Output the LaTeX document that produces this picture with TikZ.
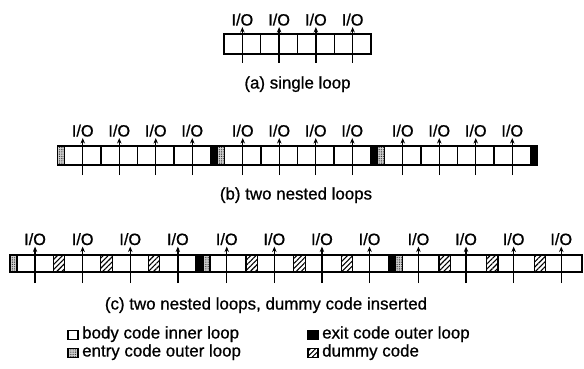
\documentclass[tikz,border=0pt]{standalone}
\usepackage{fontspec}
\setmainfont{Liberation Sans}
\newfontfamily\heavyfont[FakeBold=0.8]{Liberation Sans}
\usetikzlibrary{patterns.meta,arrows.meta}
\begin{document}
\begin{tikzpicture}[x=1pt,y=-1pt,
  box/.style={draw,line width=1.2pt},
  outline/.style={draw,line width=1.8pt},
  entryc/.style={fill=gray!35,postaction={pattern={Dots[distance=1.8pt,radius=0.45pt]}}},
  exitc/.style={fill=black},
  dummyc/.style={pattern={Lines[angle=45,distance=3.6pt,line width=1.1pt]}},
  io/.style={font=\heavyfont\fontsize{16.3}{18}\selectfont,inner sep=0pt,anchor=base},
  ioarrow/.style={-{Stealth[length=5.5pt,width=4.5pt]},line width=1.3pt,shorten >=1.2pt},
  captxt/.style={font=\heavyfont\fontsize{16.9}{18}\selectfont,inner sep=0pt,anchor=base},
  legtxt/.style={font=\heavyfont\fontsize{16.9}{18}\selectfont,inner sep=0pt,anchor=base west},
  legbox/.style={draw,line width=1.1pt}]
\useasboundingbox (0,0) rectangle (584,369);

% ---------- (a) single loop ----------
\foreach \k in {0,...,3} {
  \pgfmathsetmacro{\cx}{224+\k*36.75}
  \draw[box] (\cx,34) rectangle ++(36.75,20);
}
\draw[outline] (224,34) rectangle (371,54);
\foreach \k in {0,...,3} {
  \pgfmathsetmacro{\ax}{224+\k*36.75+18.375}
  \node[io] (a-io-\k) at (\ax,25.5) {I/O};
  \coordinate (a-bot-\k) at (\ax,63);
  \draw[ioarrow] (a-bot-\k) -- (a-io-\k.south);
}
\node[captxt] (capa) at (297.5,88.5) {(a) single loop};

% ---------- (b) two nested loops ----------
\foreach \g in {0,1,2} {
  \pgfmathsetmacro{\gx}{57.5+\g*160}
  \path[entryc,box] (\gx,146) rectangle ++(7,19);
  \foreach \k in {0,...,3} {
    \pgfmathsetmacro{\cx}{\gx+7+\k*36.5}
    \draw[box] (\cx,146) rectangle ++(36.5,19);
  }
  \path[exitc,box] ({\gx+153},146) rectangle ++(7,19);
}
\draw[outline] (57.5,146) rectangle (537.5,165);
\foreach \g in {0,1,2} {
  \foreach \k in {0,...,3} {
    \pgfmathsetmacro{\ax}{57.5+\g*160+7+\k*36.5+18.25}
    \node[io] (b-io-\g-\k) at (\ax,136.5) {I/O};
    \coordinate (b-bot-\g-\k) at (\ax,175);
    \draw[ioarrow] (b-bot-\g-\k) -- (b-io-\g-\k.south);
  }
}
\node[captxt] (capb) at (296,199.5) {(b) two nested loops};

% ---------- (c) two nested loops, dummy code inserted ----------
\foreach \g in {0,1,2} {
  \pgfmathsetmacro{\gx}{10+\g*192.9}
  \path[entryc,box] (\gx,255) rectangle ++(7,17);
  \foreach \k in {0,...,3} {
    \pgfmathsetmacro{\cx}{\gx+7+\k*47.6}
    \draw[box] (\cx,255) rectangle ++(36.1,17);
  }
  \foreach \k in {0,1,2} {
    \pgfmathsetmacro{\dx}{\gx+7+36.1+\k*47.6}
    \path[dummyc,box] (\dx,255) rectangle ++(11.5,17);
  }
}
\foreach \g in {0,1} {
  \pgfmathsetmacro{\ex}{10+\g*192.9+185.9}
  \path[exitc,box] (\ex,255) rectangle ++(7,17);
}
\draw[outline] (10,255) rectangle (581.7,272);
\foreach \g in {0,1,2} {
  \foreach \k in {0,...,3} {
    \pgfmathsetmacro{\ax}{10+\g*192.9+7+\k*47.6+18.05-\g*1.2}
    \node[io] (c-io-\g-\k) at (\ax,245) {I/O};
    \coordinate (c-bot-\g-\k) at (\ax,283);
    \draw[ioarrow] (c-bot-\g-\k) -- (c-io-\g-\k.south);
  }
}
\node[captxt] (capc) at (266,309.5) {(c) two nested loops, dummy code inserted};

% ---------- legend ----------
\draw[legbox] (68,330.5) rectangle (78,339.5);
\node[legtxt] (l1) at (82,338.5) {body code inner loop};
\path[legbox,entryc] (68,348.5) rectangle (78,357.5);
\node[legtxt] (l2) at (82,356.5) {entry code outer loop};
\path[legbox,exitc] (308,330.5) rectangle (318,339.5);
\node[legtxt] (l3) at (322,338.5) {exit code outer loop};
\path[legbox,dummyc] (308,348.5) rectangle (318,357.5);
\node[legtxt] (l4) at (322,356.5) {dummy code};
\end{tikzpicture}
\end{document}
